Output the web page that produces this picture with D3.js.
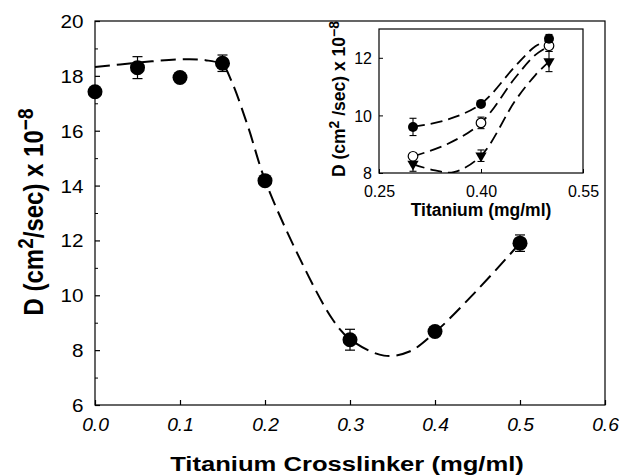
<!DOCTYPE html>
<html>
<head>
<meta charset="utf-8">
<script src="https://cdn.jsdelivr.net/npm/d3@7"></script>
<style>
  body { margin: 0; background: #fff; }
  svg { display: block; }
  text { font-family: "Liberation Sans", Arial, Helvetica, sans-serif; fill: #000; }
</style>
</head>
<body>
<svg id="chart" width="619" height="476"></svg>
<script>
// ---- Main chart data ----
const mainX = [0.0, 0.05, 0.1, 0.15, 0.2, 0.3, 0.4, 0.5];
const mainY = [17.42, 18.3, 17.94, 18.46, 14.18, 8.38, 8.68, 11.9];
const mainErr = [0, 0.4, 0, 0.3, 0, 0.38, 0, 0.3];
// fitted dashed curve
const mainCurveX = [0, 0.05, 0.1, 0.13, 0.15, 0.16, 0.18, 0.2, 0.24, 0.28, 0.3, 0.34, 0.37, 0.4, 0.45, 0.5];
const mainCurveY = [18.32, 18.48, 18.6, 18.57, 18.4, 17.85, 16.15, 14.2, 11.4, 9.1, 8.4, 7.8, 7.95, 8.65, 10.2, 11.9];
const mainXTicks = [0.0, 0.1, 0.2, 0.3, 0.4, 0.5, 0.6];
const mainYTicks = [6, 8, 10, 12, 14, 16, 18, 20];

// ---- Inset data ----
const insetX = [0.3, 0.4, 0.5];
const insetFilled = [9.6, 10.4, 12.66];
const insetFilledErr = [0.3, 0, 0.15];
const insetOpen = [8.58, 9.74, 12.42];
const insetOpenErr = [0.1, 0.2, 0.2];
const insetTri = [8.31, 8.6, 11.87];
const insetTriErr = [0.25, 0.2, 0.35];
const insetCurveFilledX = [0.3, 0.35, 0.4, 0.45, 0.48, 0.5];
const insetCurveFilledY = [9.6, 9.85, 10.4, 11.7, 12.4, 12.62];
const insetCurveOpenX = [0.3, 0.35, 0.4, 0.45, 0.48, 0.5];
const insetCurveOpenY = [8.58, 9.0, 9.74, 11.3, 12.1, 12.4];
const insetCurveTriX = [0.3, 0.33, 0.36, 0.4, 0.45, 0.48, 0.5];
const insetCurveTriY = [8.31, 8.1, 8.03, 8.6, 10.5, 11.4, 11.87];
const insetXTicks = [0.25, 0.40, 0.55];
const insetYTicks = [8, 10, 12];

const svg = d3.select("#chart");

// ---------- MAIN ----------
const x = d3.scaleLinear().domain([0, 0.6]).range([95, 605]);
const y = d3.scaleLinear().domain([6, 20]).range([405, 21]);

// frame
svg.append("rect").attr("x", 95).attr("y", 21).attr("width", 510).attr("height", 384)
  .attr("fill", "none").attr("stroke", "#000").attr("stroke-width", 1.2);

const gx = svg.append("g").attr("transform", "translate(0,405)")
  .call(d3.axisBottom(x).tickValues(mainXTicks).tickFormat(d3.format(".1f"))
    .tickSizeInner(-5).tickSizeOuter(0).tickPadding(14));
gx.select(".domain").remove();
gx.selectAll("line").attr("stroke-width", 1.2);
gx.selectAll("text").attr("font-size", 17.5).attr("font-style", "italic")
  .attr("transform", "scale(1.1,1)");

const gy = svg.append("g").attr("transform", "translate(95,0)")
  .call(d3.axisLeft(y).tickValues(mainYTicks).tickFormat(d3.format("d"))
    .tickSizeInner(-5).tickSizeOuter(0).tickPadding(10));
gy.select(".domain").remove();
gy.selectAll("line").attr("stroke-width", 1.2);
gy.selectAll("text").attr("font-size", 18).attr("transform", "scale(1.15,1)").attr("dy", "0.36em");

// minor y ticks
const gyMinor = svg.append("g").attr("transform", "translate(95,0)")
  .call(d3.axisLeft(y).tickValues([7, 9, 11, 13, 15, 17, 19]).tickFormat("").tickSizeInner(-3).tickSizeOuter(0));
gyMinor.select(".domain").remove();

// curve
const line = d3.line().x(d => x(d[0])).y(d => y(d[1])).curve(d3.curveCatmullRom.alpha(0.5));
svg.append("path").datum(mainCurveX.map((v, i) => [v, mainCurveY[i]]))
  .attr("d", line).attr("fill", "none").attr("stroke", "#000")
  .attr("stroke-width", 2).attr("stroke-dasharray", "15,7");

// error bars
const mainPts = mainX.map((v, i) => ({ x: v, y: mainY[i], e: mainErr[i] }));
const eb = svg.append("g").attr("stroke", "#000").attr("stroke-width", 1.2);
mainPts.filter(d => d.e > 0).forEach(d => {
  eb.append("line").attr("x1", x(d.x)).attr("x2", x(d.x)).attr("y1", y(d.y - d.e)).attr("y2", y(d.y + d.e));
  [d.y - d.e, d.y + d.e].forEach(v => eb.append("line").attr("x1", x(d.x) - 5).attr("x2", x(d.x) + 5)
    .attr("y1", y(v)).attr("y2", y(v)));
});
svg.append("g").selectAll("circle").data(mainPts).join("circle")
  .attr("cx", d => x(d.x)).attr("cy", d => y(d.y)).attr("r", 7.5).attr("fill", "#000");

// axis labels
const yl = svg.append("text").attr("transform", "translate(43,212) scale(1.16,1) rotate(-90)")
  .attr("text-anchor", "middle").attr("font-size", 24).attr("font-weight", "bold");
yl.append("tspan").text("D (cm");
yl.append("tspan").attr("baseline-shift", "45%").attr("font-size", 19).text("2");
yl.append("tspan").text("/sec) x 10");
yl.append("tspan").attr("baseline-shift", "45%").attr("font-size", 19).text("−8");

svg.append("text").attr("transform", "translate(347,471) scale(1.22,1)")
  .attr("text-anchor", "middle").attr("font-size", 21).attr("font-weight", "bold")
  .text("Titanium Crosslinker (mg/ml)");

// ---------- INSET ----------
const ix = d3.scaleLinear().domain([0.25, 0.55]).range([379, 583]);
const iy = d3.scaleLinear().domain([8, 13]).range([173, 29]);

svg.append("rect").attr("x", 379).attr("y", 29).attr("width", 204).attr("height", 144)
  .attr("fill", "#fff").attr("stroke", "#000").attr("stroke-width", 1.2);

svg.append("defs").append("clipPath").attr("id", "insetClip")
  .append("rect").attr("x", 379).attr("y", 29).attr("width", 204).attr("height", 144);

const igx = svg.append("g").attr("transform", "translate(0,173)")
  .call(d3.axisBottom(ix).tickValues(insetXTicks).tickFormat(d3.format(".2f"))
    .tickSizeInner(-4).tickSizeOuter(0).tickPadding(13));
igx.select(".domain").remove();
igx.selectAll("text").attr("font-size", 16);

const igy = svg.append("g").attr("transform", "translate(379,0)")
  .call(d3.axisLeft(iy).tickValues(insetYTicks).tickFormat(d3.format("d"))
    .tickSizeInner(-4).tickSizeOuter(0).tickPadding(7));
igy.select(".domain").remove();
igy.selectAll("text").attr("font-size", 16).attr("dy", "0.36em");

const iline = d3.line().x(d => ix(d[0])).y(d => iy(d[1])).curve(d3.curveCatmullRom.alpha(0.5));
const ic = svg.append("g").attr("clip-path", "url(#insetClip)");
[[insetCurveFilledX, insetCurveFilledY], [insetCurveOpenX, insetCurveOpenY], [insetCurveTriX, insetCurveTriY]]
  .forEach(([xs, ys]) => {
    ic.append("path").datum(xs.map((v, i) => [v, ys[i]])).attr("d", iline)
      .attr("fill", "none").attr("stroke", "#000").attr("stroke-width", 1.8)
      .attr("stroke-dasharray", "12,6");
  });

const ieb = svg.append("g").attr("stroke", "#000").attr("stroke-width", 1.1);
function errBars(vals, errs) {
  insetX.forEach((xv, i) => {
    if (errs[i] <= 0) return;
    const cx = ix(xv);
    ieb.append("line").attr("x1", cx).attr("x2", cx).attr("y1", iy(vals[i] - errs[i])).attr("y2", iy(vals[i] + errs[i]));
    [vals[i] - errs[i], vals[i] + errs[i]].forEach(v => ieb.append("line")
      .attr("x1", cx - 3.5).attr("x2", cx + 3.5).attr("y1", iy(v)).attr("y2", iy(v)));
  });
}
errBars(insetFilled, insetFilledErr);
errBars(insetOpen, insetOpenErr);
errBars(insetTri, insetTriErr);

svg.append("g").selectAll("path").data(insetX.map((v, i) => [v, insetTri[i]])).join("path")
  .attr("d", d3.symbol(d3.symbolTriangle, 55)())
  .attr("transform", d => `translate(${ix(d[0])},${iy(d[1])}) rotate(180)`)
  .attr("fill", "#000");
svg.append("g").selectAll("circle").data(insetX.map((v, i) => [v, insetOpen[i]])).join("circle")
  .attr("cx", d => ix(d[0])).attr("cy", d => iy(d[1])).attr("r", 4.8)
  .attr("fill", "#fff").attr("stroke", "#000").attr("stroke-width", 1.2);
svg.append("g").selectAll("circle").data(insetX.map((v, i) => [v, insetFilled[i]])).join("circle")
  .attr("cx", d => ix(d[0])).attr("cy", d => iy(d[1])).attr("r", 5)
  .attr("fill", "#000");

const iyl = svg.append("text").attr("transform", "translate(345,99) rotate(-90)")
  .attr("text-anchor", "middle").attr("font-size", 17.5).attr("font-weight", "bold");
iyl.append("tspan").text("D (cm");
iyl.append("tspan").attr("baseline-shift", "45%").attr("font-size", 14).text("2");
iyl.append("tspan").text(" /sec) x 10");
iyl.append("tspan").attr("baseline-shift", "45%").attr("font-size", 14).text("−8");

svg.append("text").attr("x", 481).attr("y", 216).attr("text-anchor", "middle")
  .attr("font-size", 17.5).attr("font-weight", "bold").text("Titanium (mg/ml)");
</script>
</body>
</html>
